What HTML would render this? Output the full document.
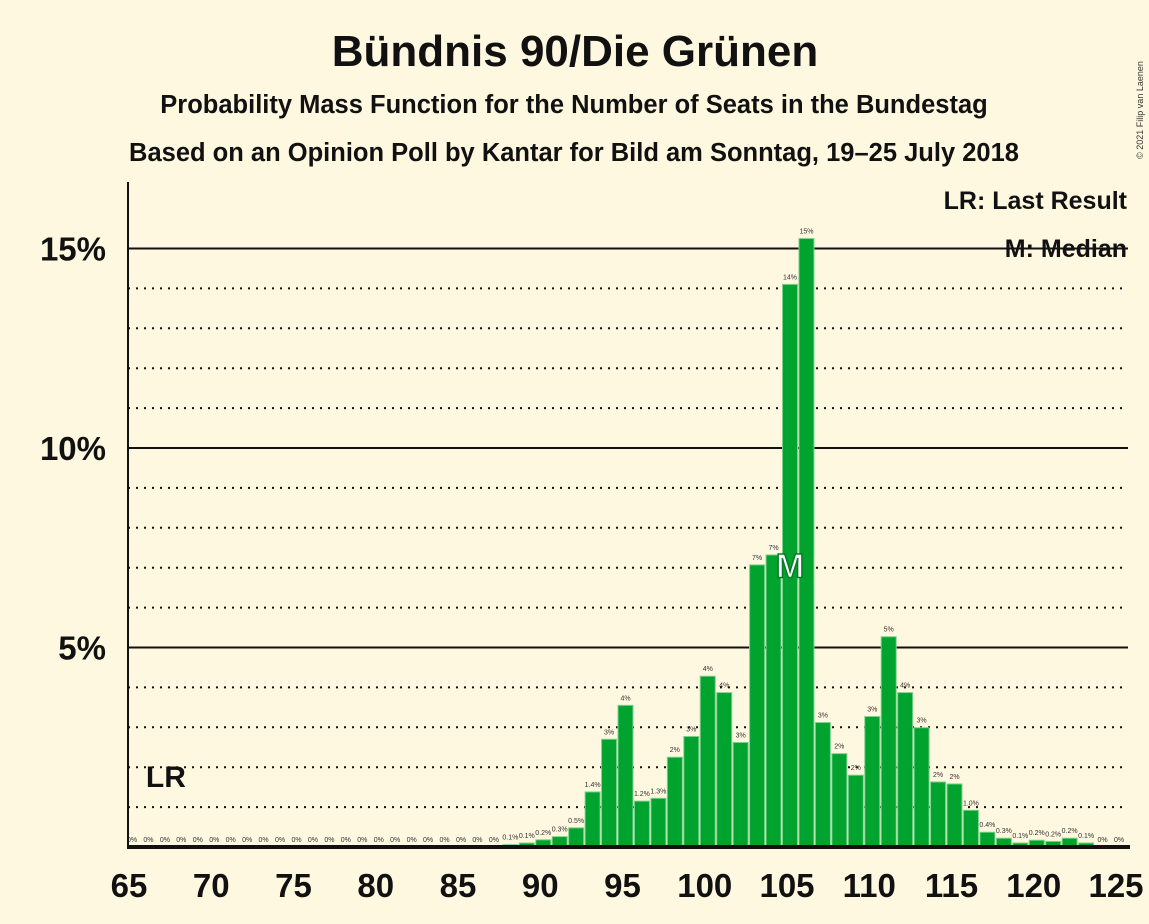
<!DOCTYPE html>
<html><head><meta charset="utf-8">
<style>
html,body{margin:0;padding:0;background:#fef8e0;}
svg{display:block;font-family:"Liberation Sans",sans-serif;}
</style></head>
<body>
<svg id="chart" width="1149" height="924" viewBox="0 0 1149 924">
<rect x="0" y="0" width="1149" height="924" fill="#fef8e0"/>
<text x="575" y="66" text-anchor="middle" font-size="44" font-weight="bold" fill="#111">Bündnis 90/Die Grünen</text>
<text x="574" y="113" text-anchor="middle" font-size="25.5" font-weight="bold" fill="#111">Probability Mass Function for the Number of Seats in the Bundestag</text>
<text x="574" y="161" text-anchor="middle" font-size="25.5" font-weight="bold" fill="#111">Based on an Opinion Poll by Kantar for Bild am Sonntag, 19–25 July 2018</text>
<text transform="translate(1143,110) rotate(-90)" text-anchor="middle" font-size="9" fill="#333">© 2021 Filip van Laenen</text>
<g id="grid"></g>
<g id="bars"></g>
<g id="axes"></g>
<text x="1127" y="209" text-anchor="end" font-size="25" font-weight="bold" fill="#111">LR: Last Result</text>
<text x="1127" y="257" text-anchor="end" font-size="25" font-weight="bold" fill="#111">M: Median</text>
</svg>
<script>
const seats = [65,66,67,68,69,70,71,72,73,74,75,76,77,78,79,80,81,82,83,84,85,86,87,88,89,90,91,92,93,94,95,96,97,98,99,100,101,102,103,104,105,106,107,108,109,110,111,112,113,114,115,116,117,118,119,120,121,122,123,124,125];
const probs = [0,0,0,0,0,0,0,0,0,0,0,0,0,0,0,0,0,0,0,0,0,0,0,0.06,0.1,0.18,0.26,0.48,1.38,2.7,3.55,1.15,1.22,2.25,2.77,4.28,3.87,2.62,7.07,7.32,14.1,15.25,3.12,2.34,1.8,3.27,5.27,3.87,2.99,1.63,1.58,0.92,0.37,0.22,0.1,0.17,0.14,0.22,0.1,0,0];
const valueLabels = ["0%","0%","0%","0%","0%","0%","0%","0%","0%","0%","0%","0%","0%","0%","0%","0%","0%","0%","0%","0%","0%","0%","0%","0.1%","0.1%","0.2%","0.3%","0.5%","1.4%","3%","4%","1.2%","1.3%","2%","3%","4%","4%","3%","7%","7%","14%","15%","3%","2%","2%","3%","5%","4%","3%","2%","2%","1.0%","0.4%","0.3%","0.1%","0.2%","0.2%","0.2%","0.1%","0%","0%"];
const xTicks = [65,70,75,80,85,90,95,100,105,110,115,120,125];
const yTicks = [5,10,15];
const yMinor = [1,2,3,4,6,7,8,9,11,12,13,14];
const lastResult = 67;
const median = 105;

const NS="http://www.w3.org/2000/svg";
const X = s => 132 + (s-65)*16.45;
const Y = p => 847 - p*39.9;
const left=128,right=1128;
function mk(tag,attrs,parent){const e=document.createElementNS(NS,tag);for(const k in attrs)e.setAttribute(k,attrs[k]);parent.appendChild(e);return e;}
const grid=document.getElementById('grid'),bars=document.getElementById('bars'),axes=document.getElementById('axes');
yMinor.forEach(v=>{
  const l=mk('line',{x1:left,x2:right,y1:Y(v),y2:Y(v),stroke:'#111','stroke-width':2,'stroke-dasharray':'2,6'},grid);
  
  
});
yTicks.forEach(v=>{
  const l=mk('line',{x1:left,x2:right,y1:Y(v),y2:Y(v),stroke:'#111','stroke-width':2},grid);
  
  
  const t=mk('text',{x:106,y:Y(v)+12,'text-anchor':'end','font-size':33,'font-weight':'bold',fill:'#111'},axes);
  t.textContent=v+'%';
  
  
});
seats.forEach((s,i)=>{
  const p=probs[i];
  if(p>0){
    const r=mk('rect',{x:X(s)-7.5,y:Y(p),width:15,height:847-Y(p),fill:'#00a32d',stroke:'#7fd08f','stroke-width':1},bars);
    
    
  }
  const t=mk('text',{x:X(s),y:Y(p)-5,'text-anchor':'middle','font-size':7,fill:'#333'},bars);
  t.textContent=valueLabels[i];
  
  
});
const m=mk('text',{x:X(median),y:Y(probs[seats.indexOf(median)]/2)+12,'text-anchor':'middle','font-size':34,'font-weight':'bold',fill:'#fff',stroke:'#0a7a28','stroke-width':1.5},axes);
m.textContent='M';


const lr=mk('text',{x:X(lastResult)+1,y:787,'text-anchor':'middle','font-size':30,'font-weight':'bold',fill:'#111'},axes);
lr.textContent='LR';


const ya=mk('line',{x1:left,x2:left,y1:182,y2:848,stroke:'#111','stroke-width':2},axes);


const xa=mk('line',{x1:left-1,x2:right+2,y1:847,y2:847,stroke:'#111','stroke-width':4},axes);


xTicks.forEach(v=>{
  const t=mk('text',{x:X(v)-3,y:897,'text-anchor':'middle','font-size':33,'font-weight':'bold',fill:'#111'},axes);
  t.textContent=v;
  
  
});
</script>
</body></html>
